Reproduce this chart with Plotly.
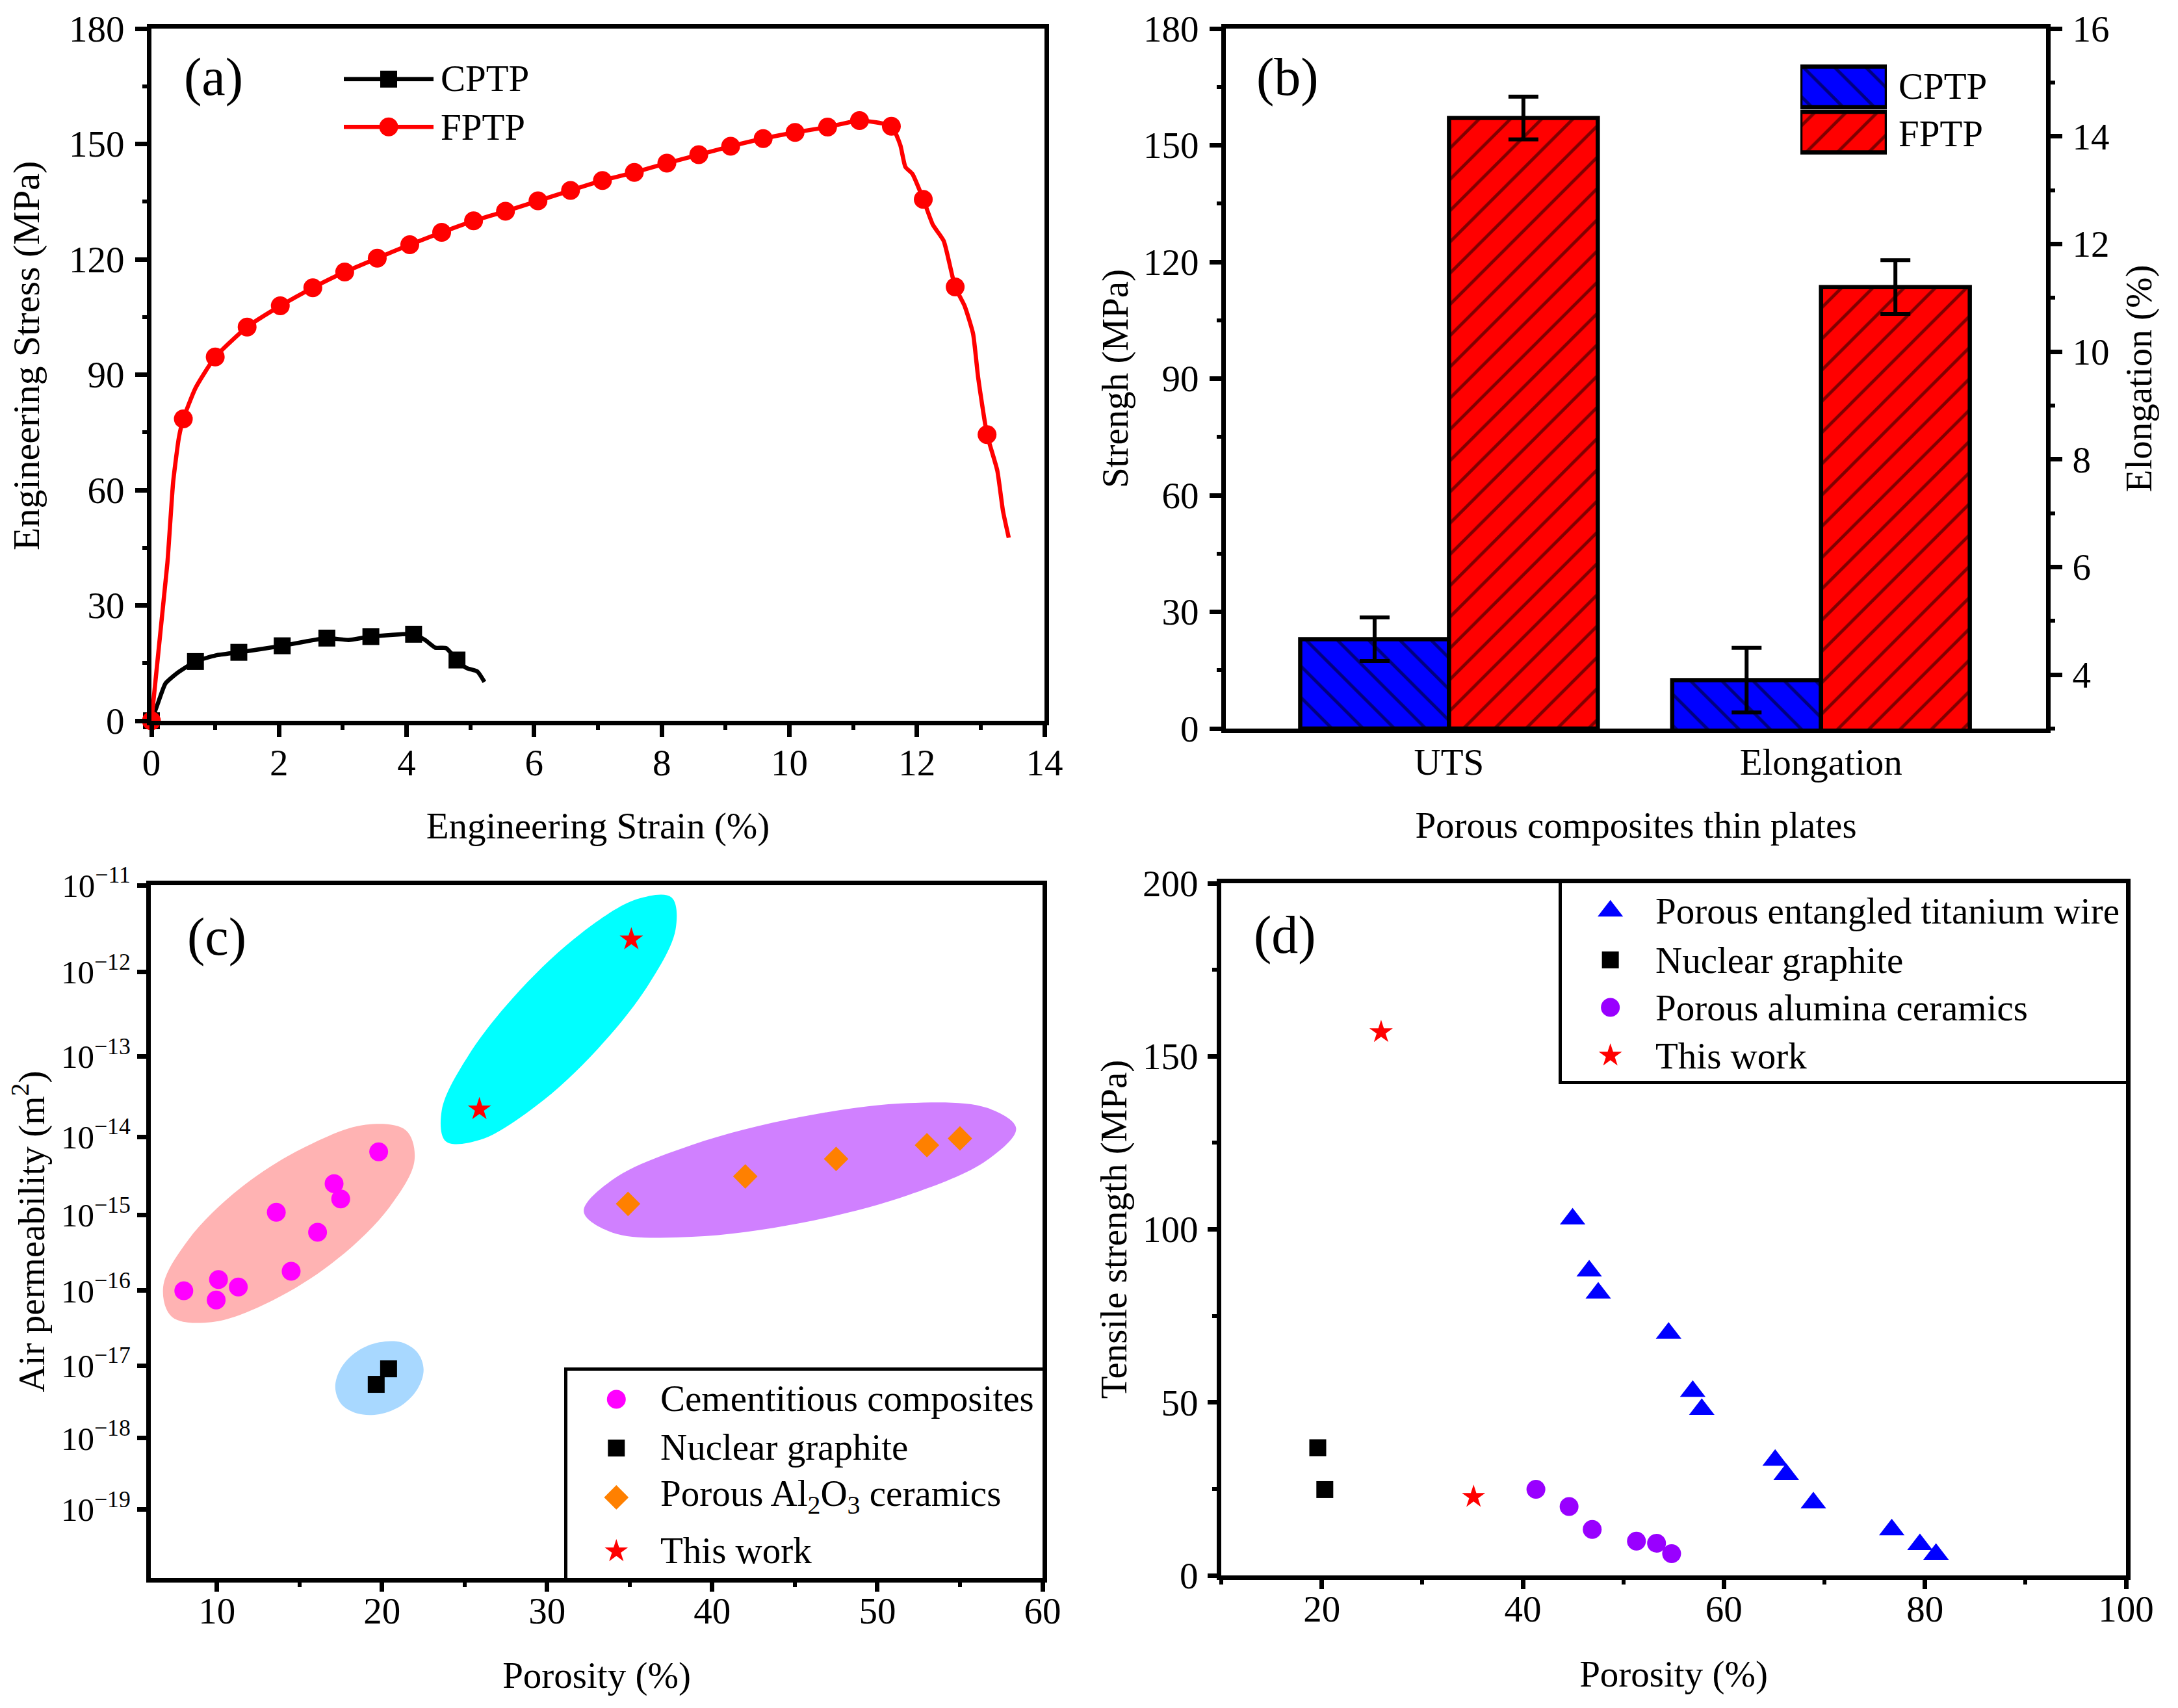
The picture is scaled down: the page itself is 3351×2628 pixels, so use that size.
import numpy as np
import plotly.graph_objects as go

W, H = 3351, 2628
BODY = 8  # default page margin round the plot div
FONT = "Liberation Serif"
FS = 57
TS = 57

# (a) tensile curves
cptp_line_x = [0, 0.09, 0.22, 0.41, 0.69, 1.01, 1.37, 2.05, 2.75, 3.09, 3.44, 4.11, 4.29, 4.45, 4.62, 4.79, 4.94, 5.11, 5.22]
cptp_line_y = [0, 4, 9.7, 12.5, 15.4, 17, 17.8, 19.5, 21.5, 21, 21.9, 22.5, 21, 19, 18.9, 15.8, 13.7, 12.8, 10.1]
cptp_mark_x = [0, 0.69, 1.37, 2.05, 2.75, 3.44, 4.11, 4.79]
cptp_mark_y = [0, 15.4, 17.8, 19.5, 21.5, 21.9, 22.5, 15.8]
fptp_mark_x = [0, 0.5, 1.0, 1.5, 2.02, 2.53, 3.03, 3.54, 4.05, 4.55, 5.05, 5.55, 6.06, 6.57, 7.07, 7.57, 8.08, 8.58,
               9.08, 9.59, 10.09, 10.6, 11.1, 11.6, 12.1, 12.6, 13.1]
fptp_mark_y = [0, 78.5, 94.6, 102.4, 107.9, 112.6, 116.7, 120.3, 123.8, 127, 130, 132.5, 135.2, 137.9, 140.5, 142.6,
               145, 147.2, 149.4, 151.4, 153, 154.4, 156.1, 154.6, 135.6, 112.8, 74.4]
fptp_line_x = [0, 0.25, 0.34, 0.43, 0.5, 0.69, 1.0, 1.5, 2.02, 2.53, 3.03, 3.54, 4.05, 4.55, 5.05, 5.55, 6.06, 6.57,
               7.07, 7.57, 8.08, 8.58, 9.08, 9.59, 10.09, 10.6, 11.1, 11.6, 11.74, 11.82, 11.93, 12.1, 12.25, 12.42,
               12.6, 12.75, 12.88, 12.96, 13.1, 13.26, 13.35, 13.44]
fptp_line_y = [0, 41, 62, 73.6, 78.5, 86.5, 94.6, 102.4, 107.9, 112.6, 116.7, 120.3, 123.8, 127, 130, 132.5, 135.2,
               137.9, 140.5, 142.6, 145, 147.2, 149.4, 151.4, 153, 154.4, 156.1, 154.6, 149.7, 144, 142.2, 135.6, 129,
               124.8, 112.8, 107.8, 100.7, 89.3, 74.4, 65.1, 54.5, 47.6]

# (b) bars
bar_labels = ["UTS", "Elongation"]
uts_vals = [23, 157]
uts_err = [5.6, 5.5]
elong_vals = [3.9, 11.2]
elong_err = [0.6, 0.5]

# (c) permeability, tick spacing on the original axis is not a true log scale
perm_exps = [-11, -12, -13, -14, -15, -16, -17, -18, -19, -20]
perm_scale = [0, 160, 316, 464, 608, 748, 886, 1020, 1151, 1278]
cem_x = [8.0, 9.96, 10.1, 11.3, 13.6, 14.5, 16.1, 17.1, 17.5, 19.8]
cem_k = [1e-16, 7.5e-17, 1.4e-16, 1.12e-16, 1.08e-15, 1.8e-16, 5.9e-16, 2.5e-15, 1.6e-15, 6.4e-15]
gra_x = [19.65, 20.4]
gra_k = [5.5e-18, 9e-18]
alu_x = [34.9, 42, 47.5, 53, 55]
alu_k = [1.38e-15, 3.1e-15, 5.2e-15, 7.8e-15, 9.5e-15]
tw_x = [35.1, 25.9]
tw_k = [2.37e-12, 2.2e-14]

# blobs round each group: porosity, log10 permeability
cyan_x = [37.53, 35.46, 32.09, 28.38, 25.26, 23.62, 23.87, 25.94, 29.31, 33.02, 36.14, 37.78, 37.53]
cyan_e = [-11.14, -11.16, -11.55, -12.21, -12.98, -13.67, -14.06, -14.04, -13.62, -12.92, -12.15, -11.51, -11.14]
pink_x = [21.45, 19.02, 15.35, 11.41, 8.27, 6.75, 7.28, 9.7, 13.37, 17.31, 20.46, 21.97, 21.45]
pink_e = [-13.92, -13.85, -14.13, -14.66, -15.33, -15.95, -16.35, -16.42, -16.13, -15.58, -14.9, -14.3, -13.92]
purp_x = [58.4, 56.64, 51.85, 45.31, 38.76, 33.97, 32.22, 33.97, 38.76, 45.31, 51.85, 56.64, 58.4]
purp_e = [-13.895, -13.64, -13.58, -13.755, -14.106, -14.55, -14.96, -15.236, -15.29, -15.11, -14.75, -14.3, -13.895]
blue_x = [22.52, 22.16, 21.18, 19.84, 18.5, 17.53, 17.17, 17.53, 18.5, 19.84, 21.18, 22.16, 22.52]
blue_e = [-17.056, -16.83, -16.69, -16.69, -16.81, -17.03, -17.295, -17.53, -17.66, -17.67, -17.55, -17.32, -17.056]

# (d) strength vs porosity
wire_x = [44.95, 46.6, 47.5, 54.5, 56.9, 57.8, 65.1, 66.2, 68.9, 76.7, 79.5, 81.1]
wire_y = [103, 88, 81.6, 70, 53.2, 48, 33.3, 29.2, 21, 13.2, 8.9, 6.1]
ng_x = [19.6, 20.3]
ng_y = [36.9, 24.8]
cer_x = [41.3, 44.6, 46.9, 51.3, 53.3, 54.8]
cer_y = [24.9, 19.9, 13.3, 9.9, 9.3, 6.3]
work_x = [25.9, 35.1]
work_y = [157, 22.7]

# legend labels
leg_a = ["CPTP", "FPTP"]
leg_c = ["Cementitious composites", "Nuclear graphite", "Porous Al<sub>2</sub>O<sub>3</sub> ceramics", "This work"]
leg_d = ["Porous entangled titanium wire", "Nuclear graphite", "Porous alumina ceramics", "This work"]

RED, BLUE, MAG, ORG, PUR = "#ff0000", "#0000ff", "#ff00ff", "#ff8000", "#9900ff"
CIRC = dict(symbol="circle", size=29)
SQ = dict(symbol="square", size=26)
DIA = dict(symbol="diamond", size=29)
STAR = dict(symbol="star", size=27)
TRI = dict(symbol="triangle-up", size=34)


def warp(e):
    # log10 value -> position on panel c's y axis
    return -np.interp(-np.asarray(e, dtype=float), [-v for v in perm_exps], perm_scale)


def warp_k(k):
    return warp(np.log10(k))


def px(v):
    return (v - BODY) / (W - 2 * BODY)


def py(v):
    return 1 - (v - BODY) / (H - 2 * BODY)


fig = go.Figure()


def dots(x, y, style, color, xa, ya):
    return go.Scatter(x=x, y=y, mode="markers", showlegend=False, cliponaxis=False,
                      marker=dict(color=color, **style), xaxis=xa, yaxis=ya)


# panel a
fig.add_trace(go.Scatter(x=cptp_line_x, y=cptp_line_y, mode="lines",
                         line=dict(color="black", width=6.5, shape="spline", smoothing=0.5),
                         showlegend=False, xaxis="x", yaxis="y"))
fig.add_trace(dots(cptp_mark_x, cptp_mark_y, SQ, "black", "x", "y"))
fig.add_trace(go.Scatter(x=fptp_line_x, y=fptp_line_y, mode="lines",
                         line=dict(color=RED, width=6.5, shape="spline", smoothing=0.5),
                         showlegend=False, xaxis="x", yaxis="y"))
fig.add_trace(dots(fptp_mark_x, fptp_mark_y, CIRC, RED, "x", "y"))


# panel b
def hatch(color, shape):
    return dict(color=color, line=dict(color="black", width=6.5),
                pattern=dict(shape=shape, fgcolor="black", bgcolor=color, size=34, solidity=0.14))


def hatch_bar(x, y, err, color, shape, offset, axis):
    return go.Bar(x=[x], y=[y], width=0.4, offset=offset, showlegend=False, marker=hatch(color, shape),
                  error_y=dict(type="data", array=[err], color="black", thickness=6, width=23),
                  xaxis="x2", yaxis=axis)


fig.add_trace(hatch_bar(0, uts_vals[0], uts_err[0], BLUE, "\\", -0.4, "y2"))
fig.add_trace(hatch_bar(0, uts_vals[1], uts_err[1], RED, "/", 0, "y2"))
fig.add_trace(hatch_bar(1, elong_vals[0], elong_err[0], BLUE, "\\", -0.4, "y5"))
fig.add_trace(hatch_bar(1, elong_vals[1], elong_err[1], RED, "/", 0, "y5"))

# swatches for panel b's legend, on their own little axes
for row, color, shape in [(1, BLUE, "\\"), (0, RED, "/")]:
    fig.add_trace(go.Bar(x=[1], y=[row], orientation="h", width=0.9, showlegend=False,
                         marker=hatch(color, shape), xaxis="x6", yaxis="y6"))

# panel c
for bx, be, col in [(pink_x, pink_e, "#ffb3b3"), (cyan_x, cyan_e, "#00ffff"),
                    (purp_x, purp_e, "#d080ff"), (blue_x, blue_e, "#a8d8ff")]:
    fig.add_trace(go.Scatter(x=bx, y=warp(be), mode="lines", fill="toself", fillcolor=col,
                             line=dict(color=col, width=0, shape="spline", smoothing=1),
                             showlegend=False, hoverinfo="skip", xaxis="x3", yaxis="y3"))

fig.add_trace(dots(cem_x, warp_k(cem_k), CIRC, MAG, "x3", "y3"))
fig.add_trace(dots(gra_x, warp_k(gra_k), SQ, "black", "x3", "y3"))
fig.add_trace(dots(alu_x, warp_k(alu_k), DIA, ORG, "x3", "y3"))
fig.add_trace(dots(tw_x, warp_k(tw_k), STAR, RED, "x3", "y3"))

# panel d
fig.add_trace(dots(wire_x, wire_y, TRI, BLUE, "x4", "y4"))
fig.add_trace(dots(ng_x, ng_y, SQ, "black", "x4", "y4"))
fig.add_trace(dots(cer_x, cer_y, CIRC, PUR, "x4", "y4"))
fig.add_trace(dots(work_x, work_y, STAR, RED, "x4", "y4"))

# legend keys: plotly caps legend symbols at 16px, so they get small axes of their own
for row, style, col in [(0.75, SQ, "black"), (0.25, CIRC, RED)]:
    fig.add_trace(go.Scatter(x=[0, 0.5, 1], y=[row] * 3, mode="lines", line=dict(color=col, width=6.5),
                             showlegend=False, xaxis="x7", yaxis="y7"))
    fig.add_trace(dots([0.5], [row], style, col, "x7", "y7"))
for row, style, col in [(0.862, CIRC, MAG), (0.627, SQ, "black"), (0.389, DIA, ORG), (0.129, STAR, RED)]:
    fig.add_trace(dots([0.103], [row], style, col, "x8", "y8"))
for row, style, col in [(0.859, TRI, BLUE), (0.612, SQ, "black"), (0.372, CIRC, PUR), (0.128, STAR, RED)]:
    fig.add_trace(dots([0.086], [row], style, col, "x9", "y9"))


def axis(left, right, title, rng, standoff, **kw):
    d = dict(domain=[left, right], range=rng, showgrid=False, zeroline=False, showline=True, mirror=True,
             linecolor="black", linewidth=7, ticks="outside", ticklen=18, tickwidth=7, tickcolor="black",
             tickfont=dict(family=FONT, size=FS, color="black"),
             title=dict(text=title, standoff=standoff, font=dict(family=FONT, size=TS, color="black")))
    d.update(kw)
    return d


def minor(dtick, tick0=0):
    return dict(ticks="outside", ticklen=7, tickwidth=6, tickcolor="black", dtick=dtick, tick0=tick0)


def key_axis(lo, hi, anchor, box):
    return dict(domain=[lo, hi], range=[0, 1], anchor=anchor, showgrid=False, zeroline=False, showticklabels=False,
                ticks="", showline=box, mirror=box, linecolor="black", linewidth=5, fixedrange=True)


layout = dict(
    width=W - 2 * BODY, height=H - 2 * BODY, margin=dict(l=0, r=0, t=0, b=0, autoexpand=False),
    paper_bgcolor="white", plot_bgcolor="white",
    font=dict(family=FONT, size=FS, color="black"), barmode="overlay", hovermode=False, showlegend=False,
    xaxis=axis(px(233), px(1607), "Engineering Strain (%)", [0, 14], 48, anchor="y", dtick=2, tick0=0,
               minor=minor(1), ticklabelstandoff=-9),
    yaxis=axis(py(1109), py(44), "", [0, 180], 33, anchor="x", dtick=30, tick0=0, minor=minor(15),
               ticklabelstandoff=5),
    xaxis2=axis(px(1886), px(3148), "Porous composites thin plates", [-0.6, 1.605], 48, anchor="y2",
                tickvals=[0, 1], ticktext=bar_labels, ticks="", ticklabelstandoff=-4),
    yaxis2=axis(py(1121), py(44), "Strengh (MPa)", [0, 180], 8, anchor="x2", dtick=30, tick0=0, minor=minor(15),
                ticklabelstandoff=5),
    yaxis5=axis(py(1121), py(44), "Elongation (%)", [3, 16], 28, anchor="x2", overlaying="y2", side="right",
                dtick=2, tick0=4, minor=minor(1, 3), mirror=False, ticklabelstandoff=4),
    xaxis6=dict(domain=[px(2770), px(2903)], range=[0, 1], anchor="y6", visible=False),
    yaxis6=dict(domain=[py(238), py(99)], range=[-0.5, 1.5], anchor="x6", visible=False),
    xaxis3=axis(px(232), px(1604), "Porosity (%)", [6, 60], 50, anchor="y3", dtick=10, tick0=0, minor=minor(5),
                ticklen=14, ticklabelstandoff=-19),
    yaxis3=axis(py(2428), py(1362), "Air permeability (m<sup>2</sup>)", [-perm_scale[-1], 0], 17, anchor="x3",
                tickvals=[-v for v in perm_scale[:-1]],
                ticktext=["10<sup>\u2212%d</sup>" % (-e) for e in perm_exps[:-1]],
                tickfont=dict(family=FONT, size=51, color="black"), ticklen=14, ticklabelstandoff=0),
    xaxis4=axis(px(1879), px(3271), "Porosity (%)", [10, 100], 51, anchor="y4", dtick=20, tick0=0, minor=minor(10),
                ticklen=14, ticklabelstandoff=-18),
    yaxis4=axis(py(2424), py(1359), "Tensile strength (MPa)", [0, 200], 9, anchor="x4", dtick=50, tick0=0,
                minor=minor(25), ticklen=14, ticklabelstandoff=3),
    xaxis7=key_axis(px(529), px(667), "y7", False),
    yaxis7=key_axis(py(232), py(85), "x7", False),
    xaxis8=key_axis(px(873), px(1604), "y8", True),
    yaxis8=key_axis(py(2428), py(2109), "x8", True),
    xaxis9=key_axis(px(2403), px(3271), "y9", True),
    yaxis9=key_axis(py(1663), py(1359), "x9", True),
)
fig.update_layout(**layout)


def note(text, x, y, size=TS, anchor="left", angle=0):
    fig.add_annotation(text=text, x=px(x), y=py(y), xref="paper", yref="paper", showarrow=False, textangle=angle,
                       xanchor=anchor, yanchor="middle", font=dict(family=FONT, size=size, color="black"))


for label, lx, ly in [("(a)", 281, 118), ("(b)", 1931, 118), ("(c)", 286, 1441), ("(d)", 1927, 1438)]:
    note(label, lx, ly, 82)
for label, ly in zip(leg_a, [121, 195]):
    note(label, 676, ly)
for label, ly in zip(leg_a, [132, 206]):
    note(label, 2919, ly)
for label, ly in zip(leg_c, [2151, 2226, 2302, 2385]):
    note(label, 1014, ly)
for label, ly in zip(leg_d, [1402, 1477, 1550, 1624]):
    note(label, 2545, ly)
# this y title sits above the middle of its axis in the original
note("Engineering Stress (MPa)", 40, 548, size=58, anchor="center", angle=-90)

fig.write_html("out.html")
